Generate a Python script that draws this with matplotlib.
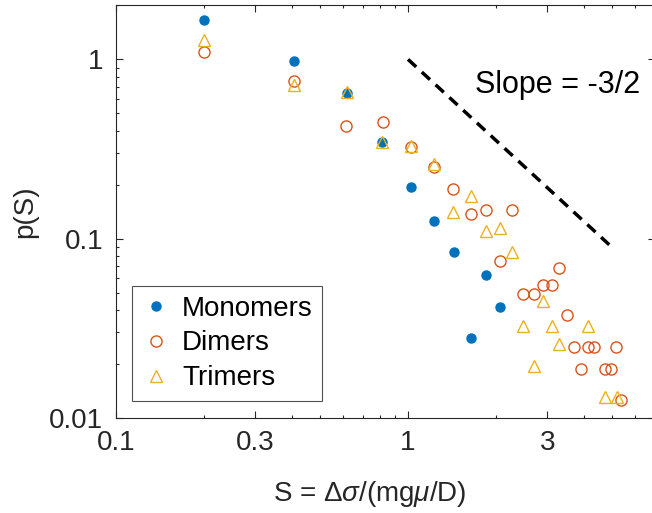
import matplotlib
import matplotlib.pyplot as plt
from matplotlib.ticker import FixedLocator, LogLocator, NullFormatter, FuncFormatter

matplotlib.use("Agg")

plt.rcParams['font.family'] = ['Liberation Sans', 'DejaVu Sans']
plt.rcParams['mathtext.fontset'] = 'custom'
plt.rcParams['mathtext.rm'] = 'Liberation Sans'
plt.rcParams['mathtext.it'] = 'Liberation Sans:italic'

# monomers
mono_s = [0.2, 0.407, 0.617, 0.817, 1.02, 1.23, 1.44, 1.85, 2.06, 1.64]
mono_p = [1.66, 0.98, 0.648, 0.348, 0.194, 0.126, 0.0847, 0.0626, 0.0418, 0.028]

# dimers
dim_s = [0.2, 0.407, 0.614, 0.82, 1.02, 1.23, 1.43, 1.64, 1.85, 2.27, 2.06, 3.3,
         2.89, 3.11, 2.47, 2.69, 3.51, 3.69, 4.14, 4.32, 5.17, 3.92, 4.73, 4.95, 5.35]
dim_p = [1.105, 0.759, 0.426, 0.448, 0.324, 0.252, 0.189, 0.1375, 0.144, 0.144, 0.0752, 0.069,
         0.0555, 0.0555, 0.0494, 0.0494, 0.0374, 0.0249, 0.0249, 0.0249, 0.0249, 0.0188, 0.0188, 0.0188, 0.0126]

# trimers
tri_s = [0.2, 0.407, 0.617, 0.817, 1.02, 1.23, 1.64, 1.43, 1.85, 2.06, 2.27, 2.89,
         2.47, 3.11, 4.14, 3.3, 2.69, 4.73, 5.2]
tri_p = [1.285, 0.72, 0.655, 0.348, 0.33, 0.261, 0.174, 0.1416, 0.111, 0.115, 0.0847, 0.0452,
         0.0327, 0.0327, 0.0327, 0.0259, 0.0194, 0.0131, 0.0131]

# guide line, slope -3/2
slope_s = [1.0, 5.05]
slope_p = [1.0, 0.0881]

blue = '#0072BD'
orange = '#D95319'
yellow = '#EDB120'

fig = plt.figure(figsize=(6.52, 5.13), dpi=100)
ax = fig.add_axes([116/652, 95/513, 538.8/652, 413/513])

ax.plot(mono_s, mono_p, 'o', color=blue, ms=6.5, mec=blue, label="Monomers")
ax.plot(dim_s, dim_p, 'o', color=orange, ms=8, mfc='none', mew=1.0, label="Dimers")
ax.plot(tri_s, tri_p, '^', color=yellow, ms=9, mfc='none', mew=1.0, label="Trimers")
ax.plot(slope_s, slope_p, '--', color='black', lw=2.5, dashes=(3.2, 2.2))
ax.text(1.70, 0.72, "Slope = -3/2", fontsize=22, ha='left', va='center')

ax.set_xscale('log')
ax.set_yscale('log')
ax.set_xlim(0.1, 7)
ax.set_ylim(0.01, 2.01)

ax.xaxis.set_major_locator(FixedLocator([0.1, 0.3, 1, 3]))
ax.xaxis.set_minor_locator(LogLocator(subs=range(2, 10)))
ax.xaxis.set_major_formatter(FuncFormatter(lambda v, p: '%g' % v))
ax.xaxis.set_minor_formatter(NullFormatter())
ax.yaxis.set_major_locator(FixedLocator([0.01, 0.1, 1]))
ax.yaxis.set_minor_locator(LogLocator(subs=range(2, 10)))
ax.yaxis.set_major_formatter(FuncFormatter(lambda v, p: '%g' % v))
ax.yaxis.set_minor_formatter(NullFormatter())

ax.tick_params(which='both', direction='in', top=True, right=True, color='#262626',
               labelcolor='#262626', labelsize=20, width=0.8)
ax.tick_params(which='major', length=5, pad=9)
ax.tick_params(which='minor', length=2.5)
for sp in ax.spines.values():
    sp.set_color('#262626')
    sp.set_linewidth(0.8)

ax.set_xlabel(r'S = $\Delta\sigma$/(mg$\mu$/D)', fontsize=20, color='#262626')
ax.set_ylabel('p(S)', fontsize=20, color='#262626')
ax.xaxis.set_label_coords(0.471, -0.148)
ax.yaxis.set_label_coords(-0.145, 0.5)

leg = ax.legend(loc='lower left', bbox_to_anchor=(16/538.8, 17/413), fontsize=20,
                frameon=True, fancybox=False, edgecolor='#262626', handlelength=1.0,
                handletextpad=0.45, borderpad=0.35, labelspacing=0.32, borderaxespad=0)
leg.get_frame().set_linewidth(0.8)

plt.savefig("out.png")
